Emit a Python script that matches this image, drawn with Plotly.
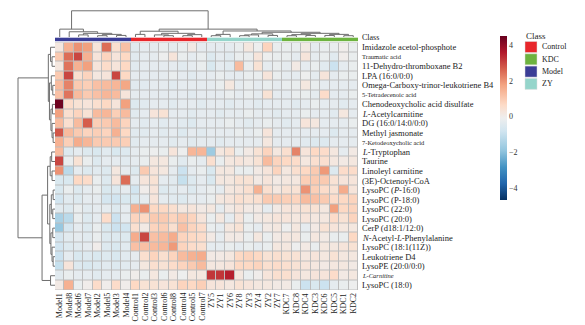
import plotly.graph_objects as go

W, H = 585, 325
FONT = "Liberation Serif, Times New Roman, serif"

columns = ["Model1", "Model8", "Model6", "Model7", "Model2", "Model5", "Model3", "Model4",
           "Control1", "Control2", "Control3", "Control6", "Control8", "Control4", "Control5", "Control7",
           "ZY5", "ZY1", "ZY6", "ZY8", "ZY3", "ZY4", "ZY2", "ZY7",
           "KDC7", "KDC8", "KDC4", "KDC3", "KDC6", "KDC5", "KDC1", "KDC2"]
col_class = ["Model"] * 8 + ["Control"] * 8 + ["ZY"] * 8 + ["KDC"] * 8

rows = ["Imidazole acetol-phosphote",
        "<span style='font-size:6.5px'>Traumatic acid</span>",
        "11-Dehydro-thromboxane B2",
        "LPA (16:0/0:0)",
        "Omega-Carboxy-trinor-leukotriene B4",
        "<span style='font-size:6.5px'>5-Tetradecenoic acid</span>",
        "Chenodeoxycholic acid disulfate",
        "<i>L</i>-Acetylcarnitine",
        "DG (16:0/14:0/0:0)",
        "Methyl jasmonate",
        "<span style='font-size:6.5px'>7-Ketodeoxycholic acid</span>",
        "<i>L</i>-Tryptophan",
        "Taurine",
        "Linoleyl carnitine",
        "(3E)-Octenoyl-CoA",
        "LysoPC (<i>P</i>-16:0)",
        "LysoPC (P-18:0)",
        "LysoPC (22:0)",
        "LysoPC (20:0)",
        "CerP (d18:1/12:0)",
        "<i>N</i>-Acetyl-<i>L</i>-Phenylalanine",
        "LysoPC (18:1(11Z))",
        "Leukotriene D4",
        "LysoPE (20:0/0:0)",
        "<span style='font-size:6.5px'><i>L-Carnitine</i></span>",
        "LysoPC (18:0)"]

values = [
    [0.2, 1.5, 2.0, 1.8, 0.3, 2.5, 0.5, 1.2, -0.4, -0.3, -0.3, -0.2, -0.3, -0.2, 0.1, -0.3, -0.3, -0.3, -0.3, -0.2, 0.2, -0.1, 0.8, -0.2, -0.2, -0.2, 0.1, -0.3, -0.2, -0.2, 0.0, -0.2],
    [1.0, 2.5, 3.0, 1.5, 0.3, 0.8, 0.3, 0.7, -0.4, -0.3, -0.3, -0.1, 0.3, -0.2, -0.3, -0.2, -0.5, -0.3, -0.4, -0.2, -0.2, 0.3, -0.1, -0.2, -0.2, -0.3, 0.3, -0.3, -0.2, -0.4, 0.0, -0.2],
    [0.2, 2.4, 1.5, 1.8, 0.3, 0.6, 0.3, 0.7, -0.4, -0.3, -0.3, -0.3, -0.3, -0.4, -0.3, -0.2, -0.6, -0.3, -0.4, 1.3, -0.2, 0.4, -0.3, -0.2, -0.3, 0.1, -0.3, -0.2, -0.4, -0.9, -0.3, -0.2],
    [1.0, 3.0, 0.5, 0.8, 0.2, 0.3, 3.0, 0.7, -0.3, -0.3, -0.3, -0.3, -0.2, -0.3, -0.4, -0.3, -0.3, -0.2, -0.3, -0.3, -0.2, -0.2, 0.3, -0.2, -0.3, -0.3, -0.1, -0.3, 0.3, -0.3, -0.2, -0.2],
    [1.3, 2.2, 1.0, 0.9, 1.2, 1.3, 1.4, 1.7, -0.4, -0.4, -0.3, -0.3, -0.4, -0.3, -0.3, -0.3, -0.3, -0.2, 0.2, -0.3, -0.2, -0.3, -0.2, -0.3, -0.2, -0.2, 0.2, -0.2, -0.3, -0.3, -0.3, -0.3],
    [1.2, 2.4, 1.3, 1.0, 1.2, 1.4, 1.3, 0.3, -0.3, -0.3, -0.3, -0.3, -0.3, -0.3, -0.4, -0.3, -0.3, -0.3, -0.2, -0.3, -0.2, -0.3, 0.4, -0.3, -0.3, -0.2, -0.2, -0.3, 0.6, -0.3, -0.3, -0.2],
    [4.4, 0.6, 0.4, 0.3, 0.5, 0.7, 0.3, 1.8, -0.5, -0.4, -0.3, -0.3, -0.4, -0.3, -0.3, -0.4, -0.3, -0.3, -0.4, -0.3, -0.3, -0.4, -0.3, -0.3, -0.3, -0.4, -0.3, -0.2, -0.3, -0.3, -0.4, -0.3],
    [1.8, 0.5, 0.8, 0.4, 1.3, 1.4, 0.9, 1.3, -0.4, -0.3, 0.3, 0.4, -0.3, -0.3, -0.4, -0.3, -0.3, -0.4, -0.3, -0.3, -0.2, -0.3, -0.3, -0.4, -0.3, -0.3, -0.2, -0.3, -0.3, -0.4, 0.2, -0.3],
    [1.3, 0.5, 1.3, 2.7, 0.9, 1.0, 1.3, 0.8, -0.3, -0.4, -0.3, -0.4, -0.3, -0.4, -0.5, -0.3, -0.3, -0.3, -0.2, -0.3, -0.4, -0.3, -0.2, -0.3, -0.4, -0.3, 0.3, 0.2, -0.3, -0.3, -0.3, -0.2],
    [2.8, 1.3, 1.0, 0.8, 0.9, 0.8, 1.5, 0.7, -0.4, -0.4, -0.3, -0.4, -0.3, -0.5, -0.3, -0.4, -0.3, -0.3, -0.3, -0.2, -0.3, -0.2, 0.3, -0.3, -0.3, -0.3, -0.3, -0.3, -0.3, -0.5, -0.3, -0.3],
    [1.5, 0.9, 1.6, 1.4, 1.0, 1.0, 1.0, 0.9, -0.4, -0.3, -0.3, -0.3, -0.4, -0.3, -0.4, -0.3, -0.3, -0.4, -0.3, -0.3, -0.3, -0.3, 0.2, -0.3, -0.3, -0.3, -0.4, -0.5, -0.5, -0.3, -0.3, -0.3],
    [1.3, -0.5, -0.3, -0.5, -0.6, -0.4, -0.6, -0.5, -0.3, -0.2, -0.1, -0.2, 0.3, -0.1, 1.4, 1.4, -1.7, 0.2, 0.4, -0.2, 0.1, 0.4, 0.8, 0.2, 0.5, 2.2, 0.3, 0.7, 0.6, 0.2, -0.3, 0.1],
    [3.0, -0.2, 0.4, -0.2, -0.5, -0.3, -0.3, -0.4, -0.3, -0.2, 0.2, 0.2, -0.2, -0.4, -0.2, -0.3, 0.5, -0.2, 0.2, 0.3, 0.2, 0.4, 1.3, 0.8, 0.7, 0.6, 0.2, 0.5, 0.5, 0.2, 0.1, 0.2],
    [2.0, -1.2, -0.3, -0.5, -0.4, -0.5, 0.2, -0.3, -0.5, 1.0, 0.3, 0.2, -0.3, -0.9, -0.3, -0.2, -0.6, 0.2, 0.2, -0.2, -0.2, 0.1, 0.3, 0.8, 0.2, 0.5, 0.7, 1.0, 1.9, -0.5, 0.6, 0.6],
    [-0.6, -0.6, 0.7, 0.6, -0.2, -0.5, 0.3, 2.5, -0.3, 0.3, 0.4, -0.3, -0.4, -1.0, -0.5, -0.3, -0.6, 0.2, 0.2, 0.4, 0.4, 0.1, 0.3, 0.1, 0.2, 0.2, 0.9, 1.0, 1.0, 0.4, 0.3, 0.3],
    [-0.6, -0.2, -0.5, -0.3, -0.2, -0.6, -0.5, -0.3, -0.8, 0.0, 0.3, -0.5, -0.4, -0.3, -0.5, -0.3, -0.2, -0.3, 0.2, 0.3, 0.5, 1.5, 0.5, 0.2, 0.4, 0.4, 2.0, 0.9, 0.6, 0.4, 1.6, 0.3],
    [-0.8, -0.4, -0.5, -0.3, -0.3, -0.7, -0.8, -0.6, -0.6, -0.3, 0.3, -0.3, -0.4, -0.5, -0.3, -0.3, -0.2, 0.2, 0.3, 0.5, 0.4, 0.5, 1.0, 1.0, 0.9, 0.8, 1.3, 1.2, 1.0, 0.6, 0.7, 0.8],
    [-0.4, -0.5, -0.2, -0.4, -0.3, -0.3, -0.5, -0.3, 1.5, 2.0, 0.7, 0.7, 0.5, 0.2, 0.3, 0.1, 0.2, -0.3, 0.1, 0.3, 0.1, 0.1, -0.3, 0.1, 0.3, 0.3, 0.4, 0.4, 0.2, 1.8, 0.7, 0.8],
    [-1.5, -1.2, -0.2, -0.5, -0.3, 0.6, -0.9, -0.3, 0.8, 0.7, 1.0, 1.0, 0.8, 1.0, 0.8, 0.3, -0.2, 0.2, -0.3, 0.3, -0.2, 0.1, 0.2, 0.3, 0.3, 0.2, 0.3, 0.2, 0.2, 0.6, 0.4, 0.8],
    [-1.8, -0.7, -0.3, -0.5, -0.2, -0.6, -0.9, -0.8, 0.5, 0.1, 0.8, 0.9, 0.5, 1.2, 0.8, 0.6, -0.2, -0.3, 0.2, 0.4, -0.2, -0.3, 0.1, 0.2, -0.1, 0.2, -0.3, 0.1, 0.4, 0.3, 0.2, 0.2],
    [-0.7, -0.4, -0.3, -0.4, -0.2, -0.5, -0.5, -0.5, 1.6, 3.0, 1.2, 1.3, 1.6, 0.8, 0.7, 0.6, 0.1, -0.3, 0.1, 0.1, -0.2, 0.2, -0.2, 0.1, 0.2, 0.2, -0.2, 0.2, 0.1, -0.2, -0.2, 0.7],
    [-0.8, -0.5, -0.4, -0.3, 0.0, -0.5, -0.6, -0.4, 1.2, 1.2, 1.3, 1.4, 1.9, 0.8, 0.6, 0.5, -0.3, -0.3, -0.2, -0.3, -0.2, -0.3, -0.2, 0.2, 0.2, -0.1, 0.1, -0.2, 0.2, 0.2, 0.3, 0.4],
    [-0.9, -0.3, -0.6, -0.5, -0.6, -0.5, -0.6, -0.4, -0.3, 0.5, 0.8, 0.5, 0.8, 1.3, 1.5, 1.6, 0.1, 0.1, 0.2, 0.7, 0.8, 0.7, 0.4, 0.5, 0.4, 0.4, 0.2, 0.3, 0.2, 0.4, 0.2, 0.2],
    [-1.0, 0.3, -0.5, -0.6, -0.5, -0.4, -0.5, -0.4, -0.3, 0.2, 0.5, 0.4, 0.6, 0.8, 1.0, 1.3, 0.2, 0.2, 0.3, 0.7, 0.7, 0.8, 0.5, 0.6, 0.5, 0.4, 0.3, 0.2, 0.1, 0.2, 0.2, 0.1],
    [-0.4, -0.2, -0.3, -0.3, -0.4, -0.3, -0.3, -0.2, 0.0, -0.2, 0.2, -0.2, 0.1, -0.1, 0.2, 0.2, 3.2, 3.2, 3.5, 0.2, -0.2, 0.0, 0.3, 0.5, 0.5, 0.3, 0.2, 0.3, 0.3, 0.6, 0.1, 0.2],
    [0.1, 1.5, -0.2, 0.0, 0.6, 0.0, 0.6, 0.0, 0.7, 0.4, 0.4, 0.3, 0.4, 0.8, 0.7, 0.9, 0.3, 0.3, 0.2, 0.4, 0.3, 0.2, 0.2, 0.1, 0.1, -0.2, -0.9, -0.6, -0.9, -0.3, -0.2, -0.1],
]

z_min, z_max = -4.66, 4.5
cbar_ticks = [-4, -2, 0, 2, 4]

class_names = ["Control", "KDC", "Model", "ZY"]
class_colors = ["#e8262b", "#6db33f", "#3b3d96", "#95d5cb"]

# dendrograms: (left, right, height); leaves are positions
col_tree = (
    (0, (1, ((2, 3, 0.08), ((4, 5, 0.05), (6, 7, 0.06), 0.1), 0.14), 0.2), 0.3),
    (((8, 9, 0.1), ((10, (11, 12, 0.05), 0.08), ((13, 14, 0.05), 15, 0.09), 0.14), 0.22),
     (((16, 17, 0.05), 18, 0.1),
      ((((19, 20, 0.05), 21, 0.08), (22, 23, 0.06), 0.12),
       (((24, 25, 0.05), (26, 27, 0.06), 0.09), ((28, 29, 0.06), (30, 31, 0.05), 0.1), 0.14), 0.18),
      0.23),
     0.3),
    1.0)

row_tree = (
    ((0, (1, 2, 0.08), 0.12),
     ((3, (4, 5, 0.06), 0.1), ((6, 7, 0.07), (8, (9, 10, 0.05), 0.08), 0.11), 0.15), 0.18),
    ((((11, 12, 0.09), (13, 14, 0.08), 0.13),
      (((15, 16, 0.05), (17, 18, 0.06), 0.1), ((19, 20, 0.06), (21, (22, 23, 0.05), 0.08), 0.11), 0.14), 0.2),
     (24, 25, 0.12), 0.35),
    1.0)


def dendro(node, segs):
    if isinstance(node, int):
        return float(node), 0.0
    l, r, h = node
    cl, hl = dendro(l, segs)
    cr, hr = dendro(r, segs)
    segs.append(([cl, cl, cr, cr], [hl, h, h, hr]))
    return (cl + cr) / 2, h


def px(x):
    return x / W


def py(y):
    return 1 - y / H


fig = go.Figure()

colorscale = [[0.0, "#053061"], [0.1, "#2166ac"], [0.2, "#4393c3"], [0.3, "#92c5de"],
              [0.42, "#d1e5f0"], [0.5, "#eeeeee"], [0.58, "#fddbc7"], [0.7, "#f4a582"],
              [0.8, "#d6604d"], [0.9, "#b2182b"], [1.0, "#67001f"]]
fig.add_trace(go.Heatmap(
    z=values, x=list(range(len(columns))), y=list(range(len(rows))),
    zmin=z_min, zmax=z_max, colorscale=colorscale, xgap=1, ygap=1,
    xaxis="x", yaxis="y", hoverinfo="skip",
    colorbar=dict(x=px(500), xanchor="left", y=py(36), yanchor="top",
                  len=164, lenmode="pixels", thickness=7, outlinewidth=0,
                  xpad=0, ypad=0, tickvals=cbar_ticks, ticks="",
                  tickfont=dict(family=FONT, size=8, color="#333"))))

# class bar
code = [class_names.index(c) for c in col_class]
n = len(class_names)
cs = []
for i, c in enumerate(class_colors):
    cs.append([i / n, c])
    cs.append([(i + 1) / n, c])
fig.add_trace(go.Heatmap(z=[code], x=list(range(len(columns))), y=[0],
                         zmin=-0.5, zmax=n - 0.5, colorscale=cs, showscale=False,
                         xaxis="x", yaxis="y2", hoverinfo="skip"))

# column dendrogram
segs = []
dendro(col_tree, segs)
xs, ys = [], []
for sx, sy in segs:
    xs += sx + [None]
    ys += sy + [None]
fig.add_trace(go.Scatter(x=xs, y=ys, mode="lines", line=dict(color="#6e6e6e", width=1),
                         xaxis="x", yaxis="y3", hoverinfo="skip", showlegend=False))

# row dendrogram
segs = []
dendro(row_tree, segs)
xs, ys = [], []
for sx, sy in segs:
    xs += sy + [None]
    ys += sx + [None]
fig.add_trace(go.Scatter(x=xs, y=ys, mode="lines", line=dict(color="#6e6e6e", width=1),
                         xaxis="x2", yaxis="y", hoverinfo="skip", showlegend=False))

shapes = [dict(type="rect", xref="x", yref="y", x0=-0.5, x1=len(columns) - 0.5,
               y0=-0.5, y1=len(rows) - 0.5, fillcolor="#bdbdbd",
               line=dict(color="#bdbdbd", width=1), layer="below")]

annotations = []
# row labels
for i, lab in enumerate(rows):
    annotations.append(dict(text=lab, x=px(360), y=i, xref="paper", yref="y",
                            xanchor="left", yanchor="middle", showarrow=False,
                            font=dict(family=FONT, size=8.5, color="#222")))
annotations.append(dict(text="Class", x=px(360), y=py(38), xref="paper", yref="paper",
                        xanchor="left", yanchor="middle", showarrow=False,
                        font=dict(family=FONT, size=8, color="#222")))
# column labels
for j, lab in enumerate(columns):
    annotations.append(dict(text=lab, x=j, y=py(291), xref="x", yref="paper",
                            xanchor="center", yanchor="top", textangle=-90, showarrow=False,
                            font=dict(family=FONT, size=8, color="#222")))
# legend
annotations.append(dict(text="Class", x=px(524), y=py(36), xref="paper", yref="paper",
                        xanchor="left", yanchor="middle", showarrow=False,
                        font=dict(family=FONT, size=9, color="#222")))
for i, (name, col) in enumerate(zip(class_names, class_colors)):
    yc = 47 + 12.3 * i
    shapes.append(dict(type="rect", xref="paper", yref="paper",
                       x0=px(525), x1=px(537), y0=py(yc - 5.5), y1=py(yc + 5.5),
                       fillcolor=col, line=dict(color="#dddddd", width=0.5)))
    annotations.append(dict(text=name, x=px(540), y=py(yc), xref="paper", yref="paper",
                            xanchor="left", yanchor="middle", showarrow=False,
                            font=dict(family=FONT, size=8, color="#222")))

fig.update_layout(
    width=W, height=H, margin=dict(l=0, r=0, t=0, b=0),
    paper_bgcolor="white", plot_bgcolor="white", showlegend=False,
    font=dict(family=FONT, size=8, color="#222"),
    xaxis=dict(domain=[px(55), px(358)], range=[-0.5, len(columns) - 0.5],
               showticklabels=False, ticks="", showgrid=False, zeroline=False,
               showline=False, anchor="y"),
    yaxis=dict(domain=[py(290), py(42.5)], range=[len(rows) - 0.5, -0.5],
               showticklabels=False, ticks="", showgrid=False, zeroline=False,
               showline=False, anchor="x"),
    yaxis2=dict(domain=[py(41.6), py(37.4)], range=[-0.5, 0.5], visible=False, anchor="x"),
    yaxis3=dict(domain=[py(37), py(10)], range=[0, 1.03], visible=False, anchor="x"),
    xaxis2=dict(domain=[0, px(55)], range=[55 / 37.0, 0], visible=False, anchor="y"),
    shapes=shapes, annotations=annotations,
)

fig.write_html("out.html", config={"displayModeBar": False},
               post_script="document.body.style.margin='0px';")
